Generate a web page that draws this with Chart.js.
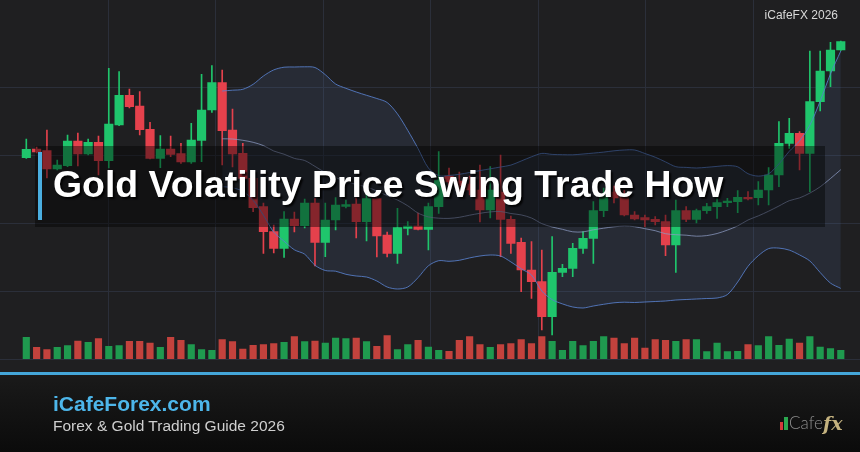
<!DOCTYPE html>
<html>
<head>
<meta charset="utf-8">
<script src="https://cdn.jsdelivr.net/npm/chart.js@4.4.1/dist/chart.umd.min.js"></script>
<style>
  body { margin: 0; background: #1f1f21; }
  #wrap { position: relative; width: 860px; height: 452px; overflow: hidden; background: #1f1f21; font-family: "Liberation Sans", Arial, sans-serif; }
  #grafico { position: absolute; left: 0; top: 0; }
  #pie { position: absolute; left: 0; top: 375px; width: 860px; height: 77px; background: linear-gradient(#1a1a1a, #0b0b0b); }
  #linea { position: absolute; left: 0; top: 372px; width: 860px; height: 3px; background: #44a6d9; }
  #caja { position: absolute; left: 35px; top: 146px; width: 790px; height: 81px; background: rgba(0, 0, 0, 0.42); }
  #acento { position: absolute; left: 38px; top: 152px; width: 4px; height: 68px; background: #4aaee0; }
  #titulo { position: absolute; left: 53px; top: 166px; font-weight: bold; font-size: 37.4px; line-height: 37.4px; color: #fff; white-space: nowrap; text-shadow: 2px 2px 2px rgba(0, 0, 0, 0.9); }
  #marca { position: absolute; right: 22px; top: 9px; font-size: 12px; line-height: 12px; color: #d8d8d8; }
  #sitio { position: absolute; left: 53px; top: 393px; font-weight: bold; font-size: 21px; line-height: 21px; color: #4db6ea; }
  #guia { position: absolute; left: 53px; top: 418px; font-size: 15.5px; line-height: 15.5px; color: #cfcfcf; }
  #logo { position: absolute; left: 780px; top: 413px; height: 20px; display: flex; align-items: flex-end; }
</style>
</head>
<body>
<div id="wrap">
  <div id="pie"></div>
  <canvas id="grafico" width="860" height="452"></canvas>
  <div id="linea"></div>
  <div id="caja"></div>
  <div id="acento"></div>
  <div id="titulo">Gold Volatility Price Swing Trade How</div>
  <div id="marca">iCafeFX 2026</div>
  <div id="sitio">iCafeForex.com</div>
  <div id="guia">Forex &amp; Gold Trading Guide 2026</div>
  <div id="logo">
    <span style="width:3px;height:8px;background:#d23b3b;margin:0 1px 3px 0"></span>
    <span style="width:4px;height:13px;background:#2aa84f;margin:0 1px 3px 0"></span>
    <span style="font:300 17px Lato, sans-serif;color:#8d8d8d;line-height:20px">Cafe</span>
    <span style="font:italic bold 19px 'DejaVu Serif', serif;color:#c4b27f;line-height:20px">fx</span>
  </div>
</div>
<script>
// sessions (not shown on the picture)
const sesiones = [
  "1", "2", "3", "4", "5", "6", "7", "8", "9", "10",
  "11", "12", "13", "14", "15", "16", "17", "18", "19", "20",
  "21", "22", "23", "24", "25", "26", "27", "28", "29", "30",
  "31", "32", "33", "34", "35", "36", "37", "38", "39", "40",
  "41", "42", "43", "44", "45", "46", "47", "48", "49", "50",
  "51", "52", "53", "54", "55", "56", "57", "58", "59", "60",
  "61", "62", "63", "64", "65", "66", "67", "68", "69", "70",
  "71", "72", "73", "74", "75", "76", "77", "78", "79", "80"
];

const apertura = [
  2542.3, 2551, 2549.3, 2531, 2534.3, 2559, 2546, 2557.7, 2539.3, 2575,
  2604.7, 2594, 2570.7, 2541.7, 2551, 2546.3, 2538, 2559.7, 2590, 2617.3,
  2570, 2546.7, 2521.7, 2493.3, 2468.3, 2451.7, 2481, 2474.3, 2497, 2457.7,
  2480, 2493.5, 2496, 2478.3, 2501.5, 2465, 2446.7, 2471.7, 2474, 2470.7,
  2493.3, 2524, 2519, 2516, 2510, 2490, 2508, 2480.7, 2457.7, 2430,
  2418.3, 2383.3, 2427.7, 2431.7, 2451.7, 2461.7, 2489.3, 2508, 2504, 2485,
  2482.3, 2480.7, 2478.3, 2455, 2489.3, 2480.7, 2489.3, 2493.3, 2497.3, 2498.3,
  2502.7, 2502.3, 2510, 2525, 2556.7, 2566.7, 2546.7, 2598.3, 2629, 2650
];
const maximo = [
  2561, 2553, 2570, 2540, 2565, 2567, 2561, 2564, 2631.7, 2628.3,
  2611, 2608.3, 2577.7, 2564.3, 2564, 2556.7, 2576.7, 2625.7, 2634.3, 2630,
  2591, 2556.7, 2525, 2497, 2475, 2488.3, 2488, 2501, 2501.5, 2497,
  2502.5, 2500, 2502, 2506, 2505, 2468, 2491.7, 2478.3, 2487, 2497,
  2548.3, 2532, 2528, 2524, 2535, 2533.3, 2545, 2484, 2462, 2458.3,
  2450, 2463.3, 2435.7, 2456.7, 2468.3, 2498.3, 2512, 2514, 2510, 2488.3,
  2485, 2483.3, 2485, 2500, 2493.3, 2491, 2496.7, 2502.3, 2501.7, 2509.3,
  2508.3, 2518.3, 2532.3, 2578.3, 2581.7, 2568.3, 2649, 2649, 2657.7, 2659
];
const minimo = [
  2541.5, 2547, 2522, 2530, 2533.3, 2534, 2545, 2525, 2532, 2574.3,
  2592, 2565, 2541, 2532.3, 2543.3, 2536.7, 2536.7, 2538.3, 2587.7, 2535,
  2533, 2519, 2488.3, 2446.7, 2447, 2442.5, 2468, 2472, 2434, 2443.3,
  2470, 2492, 2462, 2459, 2443, 2443, 2436.7, 2465, 2470, 2450,
  2486.7, 2514, 2508, 2505, 2478, 2482, 2443.3, 2446.7, 2408.3, 2401.7,
  2370, 2365, 2423.3, 2423.3, 2446.7, 2436.7, 2483.3, 2497, 2484, 2480,
  2473.3, 2475, 2444.3, 2427.7, 2478.3, 2477, 2486.7, 2481.7, 2493.3, 2487.3,
  2500, 2495, 2495, 2513.3, 2551.7, 2530, 2508.3, 2589, 2613.3, 2649.5
];
const cierre = [
  2550.7, 2548, 2531, 2535, 2559, 2546, 2557.7, 2539.3, 2576, 2604.7,
  2593.3, 2570.3, 2541.7, 2551, 2545.7, 2538, 2560, 2590, 2617.3, 2569.3,
  2546, 2521.7, 2492.3, 2468.3, 2451.7, 2481, 2474.3, 2497, 2457.7, 2480,
  2495, 2495.5, 2478.3, 2501.5, 2464, 2446.7, 2472.5, 2474, 2470.7, 2493.3,
  2520, 2518, 2514, 2510, 2490, 2510, 2480.7, 2456.7, 2430, 2418.3,
  2383.3, 2427.7, 2431.7, 2451.7, 2461.7, 2489.3, 2504, 2502, 2485, 2481,
  2480, 2478.3, 2455, 2489.3, 2480.7, 2489.3, 2493.3, 2497.3, 2499, 2502.7,
  2501, 2510, 2525, 2556.7, 2566.7, 2546.7, 2598.3, 2629, 2650, 2658.3
];
const volumen = [
  2170, 1170, 930, 1170, 1330, 1800, 1670, 2030, 1270, 1330,
  1770, 1770, 1600, 1170, 2170, 1870, 1430, 930, 870, 1930,
  1730, 1000, 1370, 1430, 1530, 1670, 2230, 1730, 1800, 1600,
  2100, 2030, 2100, 1730, 1270, 2330, 930, 1430, 1870, 1200,
  870, 770, 1870, 2230, 1430, 1170, 1430, 1530, 1930, 1530,
  2230, 1770, 870, 1770, 1330, 1770, 2230, 2100, 1530, 2100,
  1100, 1930, 1870, 1770, 1930, 1930, 730, 1600, 730, 770,
  1430, 1330, 2230, 1370, 2000, 1600, 2230, 1200, 1030, 870
];

// bollinger bands as drawn on the picture
const bandaSup = [
  null, null, null, null, null, null, null, null, null, null,
  null, null, null, null, null, null, null, null, null, 2609,
  2609.8, 2610.7, 2615.7, 2624, 2630.1, 2632.8, 2633, 2633.2, 2632.5, 2625.3,
  2616, 2611.7, 2608, 2604.7, 2601.5, 2597.5, 2586.1, 2569.6, 2551.4, 2532,
  2524.3, 2524.5, 2525.7, 2527.5, 2529.4, 2531.2, 2533, 2534.9, 2539, 2543.2,
  2546.6, 2545.6, 2545.3, 2545.2, 2546, 2546.9, 2547.9, 2549.2, 2550, 2550,
  2546.5, 2542.8, 2538.1, 2533.3, 2532.6, 2532, 2532.7, 2533.6, 2534.4, 2533.2,
  2526.3, 2523.9, 2526.2, 2536.1, 2548.7, 2559.1, 2574.8, 2598.9, 2626.1, 2649
];
const bandaMed = [
  null, null, null, null, null, null, null, null, null, null,
  null, null, null, null, null, null, null, null, null, 2561.2,
  2561, 2559.7, 2557.7, 2554.4, 2549, 2545.8, 2541.6, 2539.5, 2533.6, 2527.4,
  2522.4, 2518.7, 2515.5, 2513.1, 2509, 2504.4, 2500, 2494.2, 2486.9, 2483.1,
  2481.8, 2481.6, 2482.7, 2484.8, 2486.7, 2488.1, 2488.5, 2486.5, 2485.1, 2482,
  2476.4, 2473, 2470.7, 2468.2, 2468.1, 2470.2, 2471.8, 2473.2, 2473.9, 2473.3,
  2471.3, 2469.3, 2466.3, 2465.3, 2464.8, 2463.8, 2464.4, 2466.5, 2469.9, 2474.1,
  2480, 2484.1, 2488.8, 2494, 2499.3, 2502.1, 2506.9, 2513.2, 2521.5, 2530.3
];
const bandaInf = [
  null, null, null, null, null, null, null, null, null, null,
  null, null, null, null, null, null, null, null, null, 2513.4,
  2512.2, 2508.7, 2499.7, 2484.8, 2467.9, 2458.8, 2450.2, 2445.8, 2434.7, 2429.5,
  2428.8, 2425.7, 2424, 2423, 2419, 2413, 2411, 2413, 2422.4, 2434.2,
  2439.3, 2438.7, 2439.7, 2442.1, 2444, 2445, 2444, 2438.1, 2431.2, 2425,
  2409, 2400.4, 2396.1, 2393, 2392, 2394, 2395.7, 2397.2, 2397.8, 2397.5,
  2398, 2398.5, 2399, 2400, 2400.5, 2401, 2401.5, 2402, 2405.4, 2418,
  2433.7, 2444.3, 2451.4, 2451.9, 2449.9, 2445.1, 2439, 2427.5, 2416.9, 2411.6
];

const VERDE = "#1fc56c";
const ROJO = "#e5414c";
const VOL_VERDE = "#1f9a4f";
const VOL_ROJO = "#c3423d";

const sube = apertura.map((o, i) => cierre[i] >= o);
const cuerpos = apertura.map((o, i) => [o, cierre[i]]);
const mechas = minimo.map((l, i) => [l, maximo[i]]);
const colorVela = sube.map(s => (s ? VERDE : ROJO));
const colorVol = sube.map(s => (s ? VOL_VERDE : VOL_ROJO));

// fondo + rejilla decorativa
const fondo = {
  id: "fondo",
  beforeDraw(chart) {
    const { ctx, chartArea } = chart;
    ctx.save();
    ctx.fillStyle = "#1f1f21";
    ctx.fillRect(0, 0, 860, 372);
    ctx.strokeStyle = "#2b2f3a";
    ctx.lineWidth = 1;
    const alto = (chartArea.bottom - chartArea.top) / 5;
    for (let k = 1; k <= 5; k++) {
      const y = Math.round(chartArea.top + k * alto) + 0.5;
      ctx.beginPath();
      ctx.moveTo(0, y);
      ctx.lineTo(860, y);
      ctx.stroke();
    }
    for (let k = 1; k < 8; k++) {
      const x = Math.round(k * 860 / 8) + 0.5;
      ctx.beginPath();
      ctx.moveTo(x, 0);
      ctx.lineTo(x, chartArea.bottom);
      ctx.stroke();
    }
    ctx.restore();
  }
};

new Chart(document.getElementById("grafico"), {
  type: "bar",
  data: {
    labels: sesiones,
    datasets: [
      {
        type: "line", data: bandaSup, borderColor: "rgba(88,128,205,0.85)", borderWidth: 1,
        pointRadius: 0, tension: 0.3, fill: { target: 2 }, backgroundColor: "rgba(100,130,200,0.12)", order: 0
      },
      {
        type: "line", data: bandaMed, borderColor: "rgba(140,155,195,0.75)", borderWidth: 1,
        pointRadius: 0, tension: 0.3, fill: false, order: 0
      },
      {
        type: "line", data: bandaInf, borderColor: "rgba(88,128,205,0.85)", borderWidth: 1,
        pointRadius: 0, tension: 0.3, fill: false, order: 0
      },
      { data: cuerpos, backgroundColor: colorVela, barThickness: 8.5, grouped: false, borderSkipped: false, order: 2 },
      { data: mechas, backgroundColor: colorVela, barThickness: 1, grouped: false, borderSkipped: false, order: 3 },
      { data: volumen, yAxisID: "yv", backgroundColor: colorVol, barThickness: 6.5, grouped: false, order: 4 }
    ]
  },
  options: {
    responsive: false,
    animation: false,
    devicePixelRatio: 1,
    layout: { padding: { left: 21.15, right: 14.05, top: 19, bottom: 93 } },
    scales: {
      x: { display: false, offset: true },
      y: { display: false, min: 2341, max: 2681 },
      yv: { display: false, min: 0, max: 34000 }
    },
    plugins: {
      legend: { display: false },
      tooltip: { enabled: false },
      filler: { propagate: false, drawTime: "beforeDatasetsDraw" }
    }
  },
  plugins: [fondo]
});
</script>
</body>
</html>
